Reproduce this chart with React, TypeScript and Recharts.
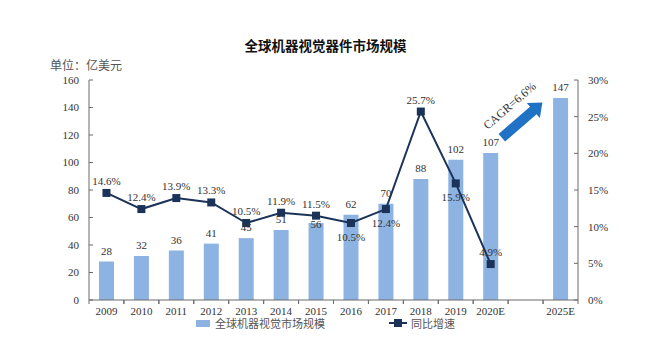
import React from "react";
import {
  ComposedChart,
  Bar,
  Line,
  XAxis,
  YAxis,
  LabelList,
  ReferenceLine,
} from "recharts";

const years = ["2009", "2010", "2011", "2012", "2013", "2014", "2015", "2016", "2017", "2018", "2019", "2020E", "", "2025E"];
const marketSize = [28, 32, 36, 41, 45, 51, 56, 62, 70, 88, 102, 107, null, 147];
const growth = [14.6, 12.4, 13.9, 13.3, 10.5, 11.9, 11.5, 10.5, 12.4, 25.7, 15.9, 4.9, null, null];
const leftTicks = [0, 20, 40, 60, 80, 100, 120, 140, 160];
const rightTicks = [0, 5, 10, 15, 20, 25, 30];

const data = years.map((year, i) => ({
  year,
  size: marketSize[i],
  growth: growth[i],
}));

// growth labels that sit under the marker instead of above
const belowLabels = new Set([7, 8, 10]);
// bar labels pushed down onto the bar top to clear the line
const lowBarLabels = new Set([6]);

const W = 651;
const H = 338;
const PLOT_LEFT = 89;
const PLOT_RIGHT = 578;
const BAND = (PLOT_RIGHT - PLOT_LEFT) / years.length;

const BAR_COLOR = "#8DB3E2";
const LINE_COLOR = "#1B3358";
const AXIS_COLOR = "#6b6b6b";
const TEXT_COLOR = "#333";
const SERIF = "'Liberation Serif', 'Noto Sans CJK SC', serif";

function LeftTick(props: any) {
  const { x, y, payload } = props;
  const axisX = x + 8;
  return (
    <g>
      <line x1={axisX} x2={axisX + 4} y1={y} y2={y} stroke={AXIS_COLOR} />
      <text x={x - 2} y={y} dy="0.35em" textAnchor="end" fontSize={11} fontFamily={SERIF} fill={TEXT_COLOR}>
        {payload.value}
      </text>
    </g>
  );
}

function RightTick(props: any) {
  const { x, y, payload } = props;
  const axisX = x - 8;
  return (
    <g>
      <line x1={axisX} x2={axisX - 4} y1={y} y2={y} stroke={AXIS_COLOR} />
      <text x={x + 2} y={y} dy="0.35em" textAnchor="start" fontSize={11} fontFamily={SERIF} fill={TEXT_COLOR}>
        {payload.value}%
      </text>
    </g>
  );
}

function BottomTick(props: any) {
  const { x, y, payload } = props;
  const axisY = y - 6;
  return (
    <g>
      <line x1={x - BAND / 2} x2={x - BAND / 2} y1={axisY} y2={axisY + 4} stroke={AXIS_COLOR} />
      <line x1={x + BAND / 2} x2={x + BAND / 2} y1={axisY} y2={axisY + 4} stroke={AXIS_COLOR} />
      <text x={x} y={y} dy="0.8em" textAnchor="middle" fontSize={11} fontFamily={SERIF} fill={TEXT_COLOR}>
        {payload.value}
      </text>
    </g>
  );
}

function SizeLabel(props: any) {
  const { x, y, width, value, index } = props;
  if (value == null) return null;
  const low = lowBarLabels.has(index);
  return (
    <text
      x={x + width / 2}
      y={low ? y + 5 : y - 7}
      textAnchor="middle"
      fontSize={11}
      fontFamily={SERIF}
      fill={TEXT_COLOR}
    >
      {value}
    </text>
  );
}

function GrowthLabel(props: any) {
  const { x, y, value, index } = props;
  if (value == null) return null;
  const below = belowLabels.has(index);
  return (
    <text
      x={x}
      y={below ? y + 18 : y - 8}
      textAnchor="middle"
      fontSize={11}
      fontFamily={SERIF}
      fill={TEXT_COLOR}
    >
      {value}%
    </text>
  );
}

function SquareDot(props: any) {
  const { cx, cy, value } = props;
  if (value == null || cx == null || cy == null) return null;
  return <rect x={cx - 4} y={cy - 4} width={8} height={8} fill={LINE_COLOR} />;
}

function CagrArrow(props: any) {
  const { x1, y1, x2, y2 } = props;
  if (x1 == null) return null;
  const t0 = 0.16;
  const t1 = 0.74;
  const sx = x1 + (x2 - x1) * t0;
  const sy = y1 + (y2 - y1) * t0;
  const ex = x1 + (x2 - x1) * t1;
  const ey = y1 + (y2 - y1) * t1;
  const dx = ex - sx;
  const dy = ey - sy;
  const len = Math.sqrt(dx * dx + dy * dy);
  const ux = dx / len;
  const uy = dy / len;
  const nx = -uy;
  const ny = ux;
  const shaft = 5;
  const head = 10;
  const headLen = 12;
  const bx = ex - ux * headLen;
  const by = ey - uy * headLen;
  const pts = [
    [sx + nx * shaft, sy + ny * shaft],
    [bx + nx * shaft, by + ny * shaft],
    [bx + nx * head, by + ny * head],
    [ex, ey],
    [bx - nx * head, by - ny * head],
    [bx - nx * shaft, by - ny * shaft],
    [sx - nx * shaft, sy - ny * shaft],
  ]
    .map((p) => p.join(","))
    .join(" ");
  const angle = (Math.atan2(dy, dx) * 180) / Math.PI;
  const mx = (sx + ex) / 2 - nx * 15;
  const my = (sy + ey) / 2 - ny * 15;
  return (
    <g>
      <polygon points={pts} fill="#1F72C4" />
      <text
        x={mx}
        y={my}
        textAnchor="middle"
        fontSize={12}
        fontFamily={SERIF}
        fill={TEXT_COLOR}
        transform={`rotate(${angle} ${mx} ${my})`}
      >
        CAGR=6.6%
      </text>
    </g>
  );
}

export default function App() {
  return (
    <div style={{ position: "absolute", left: 0, top: 0, width: W, height: H, background: "#fff" }}>
      <div
        style={{
          position: "absolute",
          top: 35,
          left: 0,
          width: W,
          textAlign: "center",
          fontSize: 13.5,
          fontWeight: 700,
          fontFamily: "'Noto Sans CJK SC', sans-serif",
          color: "#111",
        }}
      >
        全球机器视觉器件市场规模
      </div>
      <div
        style={{
          position: "absolute",
          top: 56,
          left: 50,
          fontSize: 12,
          fontFamily: SERIF,
          color: "#555",
        }}
      >
        单位：亿美元
      </div>
      <ComposedChart
        width={W}
        height={H}
        data={data}
        margin={{ top: 80, right: 33, left: 49, bottom: 18 }}
      >
        <XAxis
          dataKey="year"
          interval={0}
          height={20}
          tickSize={0}
          tickMargin={6}
          tick={<BottomTick />}
          axisLine={{ stroke: AXIS_COLOR }}
        />
        <YAxis
          yAxisId="left"
          width={40}
          domain={[0, 160]}
          ticks={leftTicks}
          tickSize={0}
          tickMargin={8}
          tick={<LeftTick />}
          axisLine={{ stroke: AXIS_COLOR }}
        />
        <YAxis
          yAxisId="right"
          orientation="right"
          width={40}
          domain={[0, 30]}
          ticks={rightTicks}
          tickSize={0}
          tickMargin={8}
          tick={<RightTick />}
          axisLine={{ stroke: AXIS_COLOR }}
        />
        <Bar yAxisId="left" dataKey="size" fill={BAR_COLOR} barSize={15} isAnimationActive={false}>
          <LabelList dataKey="size" content={<SizeLabel />} />
        </Bar>
        <Line
          yAxisId="right"
          dataKey="growth"
          stroke={LINE_COLOR}
          strokeWidth={2}
          dot={<SquareDot />}
          connectNulls={false}
          isAnimationActive={false}
        >
          <LabelList dataKey="growth" content={<GrowthLabel />} />
        </Line>
        <ReferenceLine
          yAxisId="left"
          segment={[
            { x: "2020E", y: 111 },
            { x: "2025E", y: 155 },
          ]}
          ifOverflow="visible"
          shape={<CagrArrow />}
        />
      </ComposedChart>
      <div
        style={{
          position: "absolute",
          top: 315,
          left: 0,
          width: W,
          display: "flex",
          justifyContent: "center",
          gap: 64,
          fontSize: 11,
          fontFamily: SERIF,
          color: "#555",
        }}
      >
        <span style={{ display: "flex", alignItems: "center", gap: 5 }}>
          <span style={{ width: 14, height: 7, background: BAR_COLOR, display: "inline-block" }} />
          全球机器视觉市场规模
        </span>
        <span style={{ display: "flex", alignItems: "center", gap: 4 }}>
          <span style={{ position: "relative", width: 18, height: 8, display: "inline-block" }}>
            <span style={{ position: "absolute", left: 0, top: 3, width: 18, height: 2, background: LINE_COLOR }} />
            <span style={{ position: "absolute", left: 5, top: 0, width: 8, height: 8, background: LINE_COLOR }} />
          </span>
          同比增速
        </span>
      </div>
    </div>
  );
}
